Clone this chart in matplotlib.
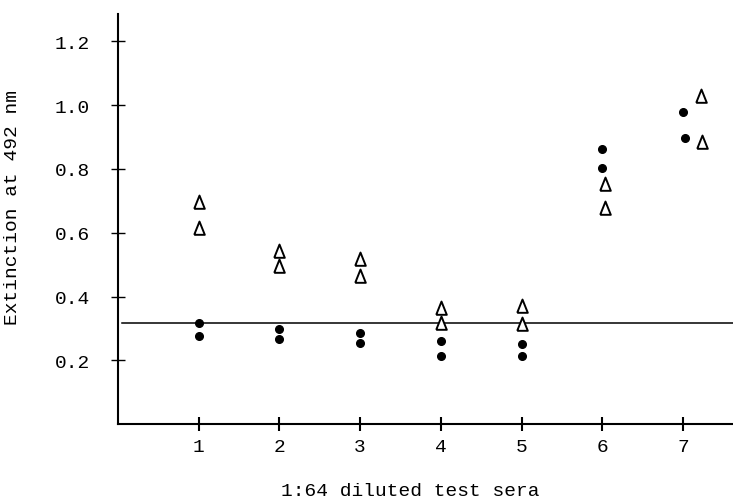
import numpy as np
import matplotlib
matplotlib.use("Agg")
import matplotlib.pyplot as plt

plt.rcParams['font.family'] = ['Liberation Mono', 'DejaVu Sans Mono']

# extinction values per serum: filled dots and open triangles
dot_x = [1, 1, 2, 2, 3, 3, 4, 4, 5, 5, 6, 6, 7.0, 7.02]
dot_y = [0.316, 0.275, 0.297, 0.266, 0.285, 0.253, 0.26, 0.213,
         0.25, 0.213, 0.861, 0.802, 0.977, 0.896]
tri_x = [1, 1, 2, 2, 3, 3, 4, 4, 5, 5, 6.03, 6.03, 7.22, 7.24]
tri_y = [0.695, 0.614, 0.542, 0.495, 0.517, 0.463, 0.363, 0.316,
         0.369, 0.313, 0.752, 0.676, 1.028, 0.883]
cutoff = 0.316

sera = [1, 2, 3, 4, 5, 6, 7]
yticks = [0.2, 0.4, 0.6, 0.8, 1.0, 1.2]

# narrow open triangle, like a typed delta
delta = [(-0.42, -0.5), (0.42, -0.5), (0, 0.55), (-0.42, -0.5)]

fig = plt.figure(figsize=(7.33, 5.02), dpi=100)
ax = fig.add_axes([0.161, 0.153, 0.839, 0.817])

ax.axhline(cutoff, xmin=0.006, xmax=1, color='black', lw=1.1, zorder=1)
ax.plot(dot_x, dot_y, 'o', color='black', ms=5.5, zorder=3)
ax.plot(tri_x, tri_y, ls='none', marker=delta, mfc='white', mec='black',
        mew=1.4, ms=10, zorder=3)

ax.set_xlim(0, 7.62)
ax.set_ylim(0, 1.285)
ax.set_xticks(sera)
ax.set_xticklabels([str(s) for s in sera])
ax.set_yticks(yticks)
ax.set_yticklabels([f'{v:.1f}' for v in yticks])

for s in ['top', 'right']:
    ax.spines[s].set_visible(False)
for s in ['left', 'bottom']:
    ax.spines[s].set_linewidth(1.5)

ax.tick_params(axis='y', direction='inout', length=10, width=1.0,
               pad=15, labelsize=14)
ax.tick_params(axis='x', direction='inout', length=10, width=1.5,
               pad=5, labelsize=14)

ax.set_xlabel('1:64 diluted test sera', fontsize=14)
ax.set_ylabel('Extinction at 492 nm', fontsize=14)
ax.xaxis.set_label_coords(0.475, -0.14)
ax.yaxis.set_label_coords(-0.158, 0.53)

fig.savefig('out.png', dpi=100)
